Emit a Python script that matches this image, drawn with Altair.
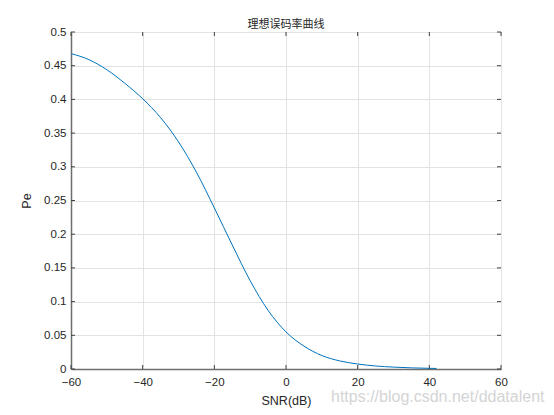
import altair as alt
import pandas as pd

snr_db = [-60, -55, -50, -45, -40, -35, -30, -25, -20, -15, -10, -5, 0, 5, 10, 15, 20, 25, 30, 35, 40, 42]
pe = [0.468, 0.459, 0.444, 0.424, 0.401, 0.373, 0.337, 0.292, 0.239, 0.184, 0.131, 0.087, 0.055,
      0.034, 0.020, 0.012, 0.0074, 0.0045, 0.0028, 0.0017, 0.0010, 0.0008]
x_ticks = [-60, -40, -20, 0, 20, 40, 60]
y_ticks = [0, 0.05, 0.1, 0.15, 0.2, 0.25, 0.3, 0.35, 0.4, 0.45, 0.5]
title_text = "理想误码率曲线"
x_title = "SNR(dB)"
y_title = "Pe"
watermark = "https://blog.csdn.net/ddatalent"

W, H = 430, 337
FONT = "Liberation Sans"
CJK = "Noto Sans CJK SC"

df = pd.DataFrame({"snr": snr_db, "pe": pe})
xt = pd.DataFrame({"snr": x_ticks})
yt = pd.DataFrame({"pe": y_ticks})

xscale = alt.Scale(domain=[-60, 60], nice=False, zero=False)
yscale = alt.Scale(domain=[0, 0.5], nice=False, zero=False)

lbl = "format(datum.value, '~r')"
xaxis = alt.Axis(values=x_ticks, title=x_title, labelExpr=lbl, labelFlush=False)
yaxis = alt.Axis(values=y_ticks, title=y_title, labelExpr=lbl, labelFlush=False)

X = alt.X("snr:Q", scale=xscale, axis=xaxis, title=x_title)
Y = alt.Y("pe:Q", scale=yscale, axis=yaxis, title=y_title)

line = alt.Chart(df).mark_line(color="#0072BD", strokeWidth=1, interpolate="monotone").encode(
    x=X, y=Y)

tick_col = "#404040"
bot = alt.Chart(xt).mark_rule(color=tick_col, strokeWidth=1).encode(
    x=X, y=alt.value(H), y2=alt.value(H - 4))
top = alt.Chart(xt).mark_rule(color=tick_col, strokeWidth=1).encode(
    x=X, y=alt.value(0), y2=alt.value(4))
left = alt.Chart(yt).mark_rule(color=tick_col, strokeWidth=1).encode(
    y=Y, x=alt.value(0), x2=alt.value(4))
right = alt.Chart(yt).mark_rule(color=tick_col, strokeWidth=1).encode(
    y=Y, x=alt.value(W), x2=alt.value(W - 4))

wm = alt.Chart(pd.DataFrame({"w": [watermark]})).mark_text(
    align="left", baseline="alphabetic", fontSize=16, font=FONT, color="#d4d4d4", clip=False
).encode(text="w:N", x=alt.value(260), y=alt.value(H + 33))

chart = alt.layer(line, bot, top, left, right, wm).properties(
    width=W, height=H,
    title=alt.TitleParams(title_text, font=CJK, fontSize=11, fontWeight="normal",
                          color="#262626", offset=0, dy=4, anchor="middle"),
    autosize=alt.AutoSizeParams(type="none"),
    padding={"left": 63, "top": 24, "right": 45, "bottom": 40},
).configure_view(
    stroke="#404040", strokeWidth=1
).configure_axis(
    grid=True, gridColor="#e3e3e3", gridWidth=1,
    domainColor="#6e6e6e", domainWidth=1.5,
    tickSize=0, labelPadding=5,
    labelFont=FONT, labelFontSize=11.5, labelColor="#262626",
    titleFont=FONT, titleFontSize=12.5, titleFontWeight="normal", titleColor="#262626",
).configure_axisX(
    titlePadding=7, labelPadding=7
).configure_axisY(
    titlePadding=10
)

chart.save("out.html", embed_options={"renderer": "svg", "actions": False})
